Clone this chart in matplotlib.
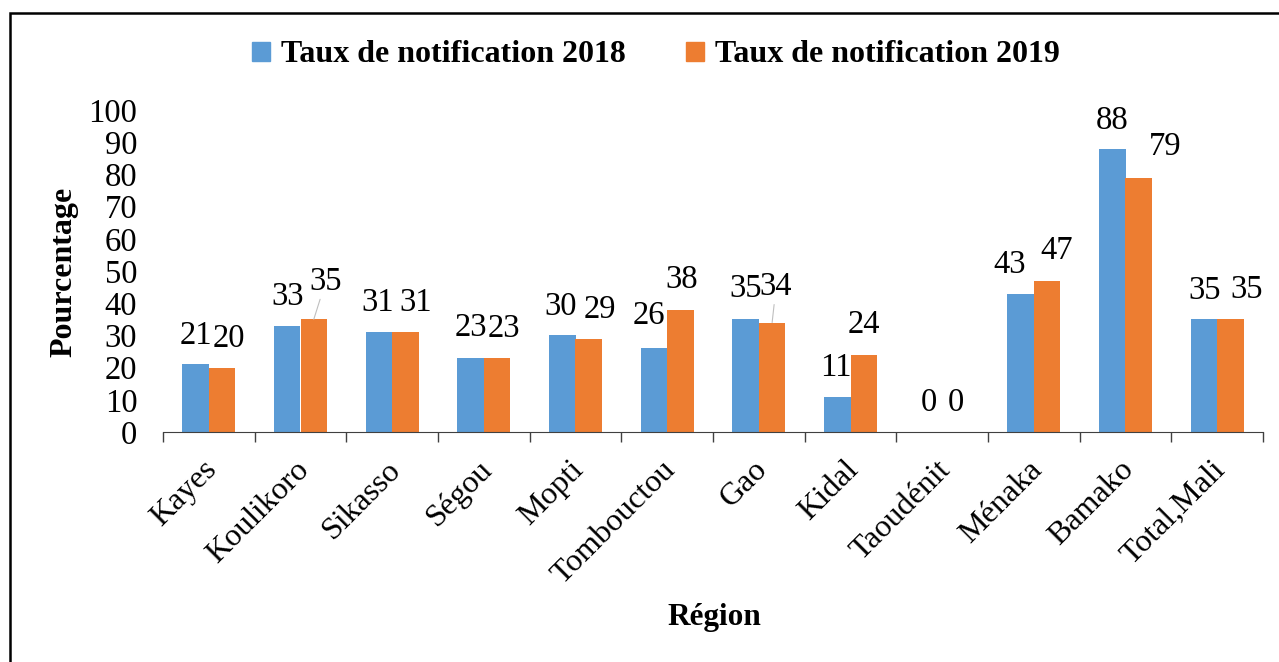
import numpy as np
import matplotlib
matplotlib.use('Agg')
import matplotlib.pyplot as plt
import matplotlib.transforms as mtransforms
from matplotlib.patches import Patch, Rectangle

regions = ['Kayes', 'Koulikoro', 'Sikasso', 'Ségou', 'Mopti', 'Tombouctou',
           'Gao', 'Kidal', 'Taoudénit', 'Ménaka', 'Bamako', 'Total,Mali']
taux_2018 = [21, 33, 31, 23, 30, 26, 35, 11, 0, 43, 88, 35]
taux_2019 = [20, 35, 31, 23, 29, 38, 34, 24, 0, 47, 79, 35]
series_names = ['Taux de notification 2018', 'Taux de notification 2019']
yticks = list(range(0, 101, 10))

# label placement (pixels, like Excel's manual label moves)
dx_2018 = [0, 0, -1, 0, -2, -5, 0, -1, 0, -11, 0, 1]
dy_2018 = [29, 29, 29, 30, 29, 33, 31, 29, 29, 29, 28, 29]
dx_2019 = [7, 12, 10, 7, 11, 1, 4, 0, 0, 10, 26, 16]
dy_2019 = [29, 38, 29, 29, 29, 30, 36, 30, 29, 30, 31, 30]
leader_2019 = [False, True, False, False, False, False, True, False, False, False, False, False]

blue = '#5B9BD5'
orange = '#ED7D31'
plt.rcParams['font.family'] = ['Liberation Serif', 'DejaVu Serif']

W, H = 1279, 662
fig = plt.figure(figsize=(W / 100, H / 100), dpi=100)
ax = fig.add_axes([163 / W, 1 - 432 / H, 1100 / W, 322 / H])

x = np.arange(len(regions))
bw = 0.29
ax.bar(x - bw / 2, taux_2018, bw, color=blue, label=series_names[0])
ax.bar(x + bw / 2, taux_2019, bw, color=orange, label=series_names[1])

for i in range(len(regions)):
    ax.annotate(str(taux_2018[i]), (x[i] - bw / 2, taux_2018[i]),
                xytext=(dx_2018[i], dy_2018[i]), textcoords='offset pixels',
                ha='center', va='center', fontsize=23.5)
    arrow = None
    if leader_2019[i]:
        arrow = dict(arrowstyle='-', color='#bfbfbf', lw=0.8, shrinkA=0, shrinkB=0)
    ax.annotate(str(taux_2019[i]), (x[i] + bw / 2, taux_2019[i]),
                xytext=(dx_2019[i], dy_2019[i]), textcoords='offset pixels',
                ha='center', va='center', fontsize=23.5, arrowprops=arrow)

ax.set_xlim(-0.5, len(regions) - 0.5)
ax.set_ylim(0, 100)
ax.set_yticks(yticks)
ax.set_yticklabels([str(v) for v in yticks], fontsize=23.5)
ax.tick_params(axis='y', length=0, pad=18.5)

# tick marks between categories, labels at category centres
ax.set_xticks(np.arange(-0.5, len(regions), 1.0))
ax.set_xticklabels([])
ax.tick_params(axis='x', which='major', length=7.5, width=1, color='#404040', direction='out')
ax.set_xticks(x, minor=True)
ax.set_xticklabels(regions, minor=True, rotation=45, ha='right', va='center',
                   rotation_mode='anchor', fontsize=23)
ax.tick_params(axis='x', which='minor', length=0, pad=24)
offset = mtransforms.ScaledTranslation(4 / 100, 0, fig.dpi_scale_trans)
for lbl in ax.get_xticklabels(minor=True):
    lbl.set_transform(lbl.get_transform() + offset)

for s in ['left', 'right', 'top']:
    ax.spines[s].set_visible(False)
ax.spines['bottom'].set_color('#404040')

fig.text(64 / W, 1 - 272 / H, 'Pourcentage', rotation=90, ha='center', va='center',
         fontsize=23, fontweight='bold')
fig.text(714 / W, 1 - 618 / H, 'Région', ha='center', va='center',
         fontsize=22.5, fontweight='bold')

handles = [Patch(color=blue), Patch(color=orange)]
fig.legend(handles, series_names, loc='center', bbox_to_anchor=(656 / W, 1 - 55 / H),
           ncol=2, frameon=False, handlelength=0.55, handleheight=0.55,
           handletextpad=0.35, columnspacing=1.9,
           prop={'size': 23, 'weight': 'bold'})

fig.add_artist(Rectangle((10 / W, -0.1), 1.2, 1.1 - 13 / H, transform=fig.transFigure,
                         fill=False, edgecolor='black', lw=1.8))

fig.savefig('out.png', dpi=100)
